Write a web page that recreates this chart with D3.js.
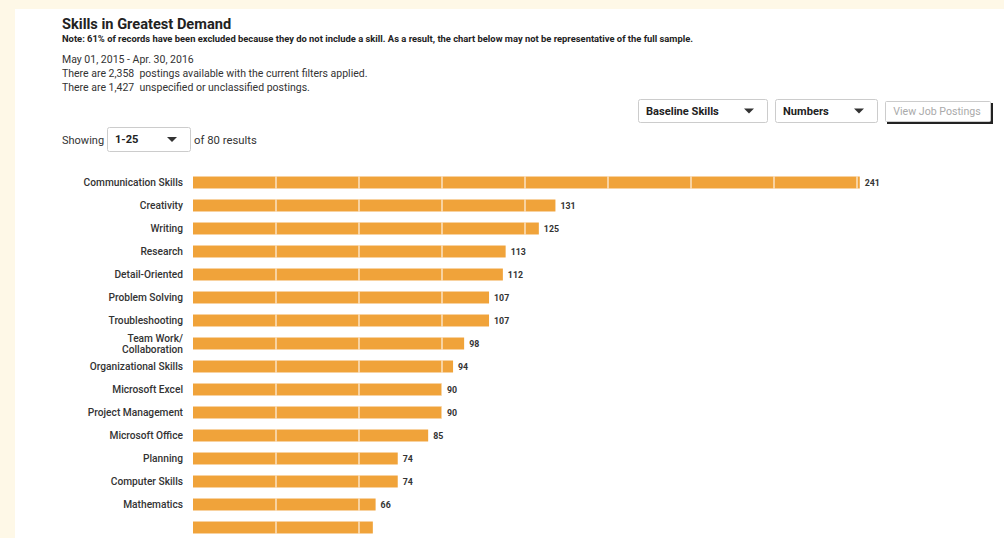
<!DOCTYPE html>
<html><head><meta charset="utf-8">
<script src="https://cdn.jsdelivr.net/npm/d3@7/dist/d3.min.js"></script>
<style>
html,body{margin:0;padding:0;background:#fef8e7;overflow:hidden;}
svg{display:block;font-family:Roboto,"Open Sans",sans-serif;}
text{white-space:pre;}
</style></head><body>
<svg id="c" width="1004" height="538"></svg>
<script>
const categories = ["Communication Skills","Creativity","Writing","Research","Detail-Oriented","Problem Solving","Troubleshooting","Team Work/\nCollaboration","Organizational Skills","Microsoft Excel","Project Management","Microsoft Office","Planning","Computer Skills","Mathematics",""];
const values = [241,131,125,113,112,107,107,98,94,90,90,85,74,74,66,65];
const showLabel = [true,true,true,true,true,true,true,true,true,true,true,true,true,true,true,false];
const gridTicks = [0,30,60,90,120,150,180,210,240];

const svg = d3.select("#c");
svg.append("rect").attr("x",15).attr("y",9).attr("width",989).attr("height",529).attr("fill","#fff");

// header
svg.append("text").attr("x",62).attr("y",29).attr("font-size",14.6).attr("font-weight",700).attr("fill","#222").text("Skills in Greatest Demand");
svg.append("text").attr("x",62).attr("y",42).attr("font-size",9.4).attr("font-weight",700).attr("fill","#222")
  .text("Note: 61% of records have been excluded because they do not include a skill. As a result, the chart below may not be representative of the full sample.");
const info = ["May 01, 2015 - Apr. 30, 2016","There are 2,358  postings available with the current filters applied.","There are 1,427  unspecified or unclassified postings."];
svg.selectAll("text.info").data(info).join("text").attr("class","info")
  .attr("x",62).attr("y",(d,i)=>63+i*14).attr("font-size",10.5).attr("fill","#333").text(d=>d);

// dropdowns
function dropdown(x,y,w,h,label,fs){
  const g = svg.append("g");
  g.append("rect").attr("x",x+0.5).attr("y",y+0.5).attr("width",w).attr("height",h).attr("rx",2).attr("fill","#fff").attr("stroke","#ccc");
  g.append("text").attr("x",x+8).attr("y",y+h/2+4).attr("font-size",fs).attr("font-weight",700).attr("fill","#222").text(label);
  const ax = x+w-18, ay = y+h/2-2;
  g.append("path").attr("d",`M${ax-5},${ay} L${ax+5},${ay} L${ax},${ay+5} Z`).attr("fill","#333");
}
dropdown(638,99,129,23,"Baseline Skills",11.1);
dropdown(775,99,102,23,"Numbers",11.1);
// button
svg.append("rect").attr("x",887).attr("y",103).attr("width",106).attr("height",21).attr("fill","#222");
svg.append("rect").attr("x",885.5).attr("y",101.5).attr("width",105).attr("height",20).attr("rx",1).attr("fill","#fff").attr("stroke","#ccc");
svg.append("text").attr("x",937).attr("y",115).attr("text-anchor","middle").attr("font-size",10.6).attr("fill","#aaa").text("View Job Postings");

svg.append("text").attr("x",62).attr("y",144).attr("font-size",11).attr("fill","#333").text("Showing");
dropdown(107,127,83,24,"1-25",11.1);
svg.append("text").attr("x",194).attr("y",144).attr("font-size",11.3).attr("fill","#333").text("of 80 results");

// chart
const x = d3.scaleLinear().domain([0,240]).range([193,857]);
const y = d3.scaleBand().domain(d3.range(values.length)).range([171,539]).paddingInner(0.48).paddingOuter(0.24);

const g = svg.append("g");
g.selectAll("rect.bar").data(values).join("rect").attr("class","bar")
  .attr("x",x(0)).attr("y",(d,i)=>y(i)).attr("width",d=>x(d)-x(0)).attr("height",y.bandwidth())
  .attr("fill","#f0a33a");

// gridlines over bars (white separators)
const grid = g.append("g");
values.forEach((v,i)=>{
  gridTicks.filter(t=>t>0 && t<=v).forEach(t=>{
    grid.append("line").attr("x1",x(t)).attr("x2",x(t)).attr("y1",y(i)).attr("y2",y(i)+y.bandwidth())
      .attr("stroke","#fff").attr("stroke-opacity",0.8).attr("stroke-width",1.3);
  });
});

// value labels
g.selectAll("text.val").data(values).join("text").attr("class","val")
  .attr("x",d=>x(d)+5).attr("y",(d,i)=>y(i)+y.bandwidth()/2+3)
  .attr("font-size",8.8).attr("font-weight",700).attr("fill","#333")
  .text((d,i)=>showLabel[i]?d:"");

// category labels
categories.forEach((c,i)=>{
  const lines = c.split("\n");
  const cy = y(i)+y.bandwidth()/2;
  const t = g.append("text").attr("text-anchor","end").attr("font-size",10.2).attr("font-weight",500).attr("fill","#333");
  lines.forEach((l,j)=>{
    t.append("tspan").attr("x",183).attr("y",cy+3.5+(j-(lines.length-1)/2)*11).text(l);
  });
});
</script>
</body></html>
